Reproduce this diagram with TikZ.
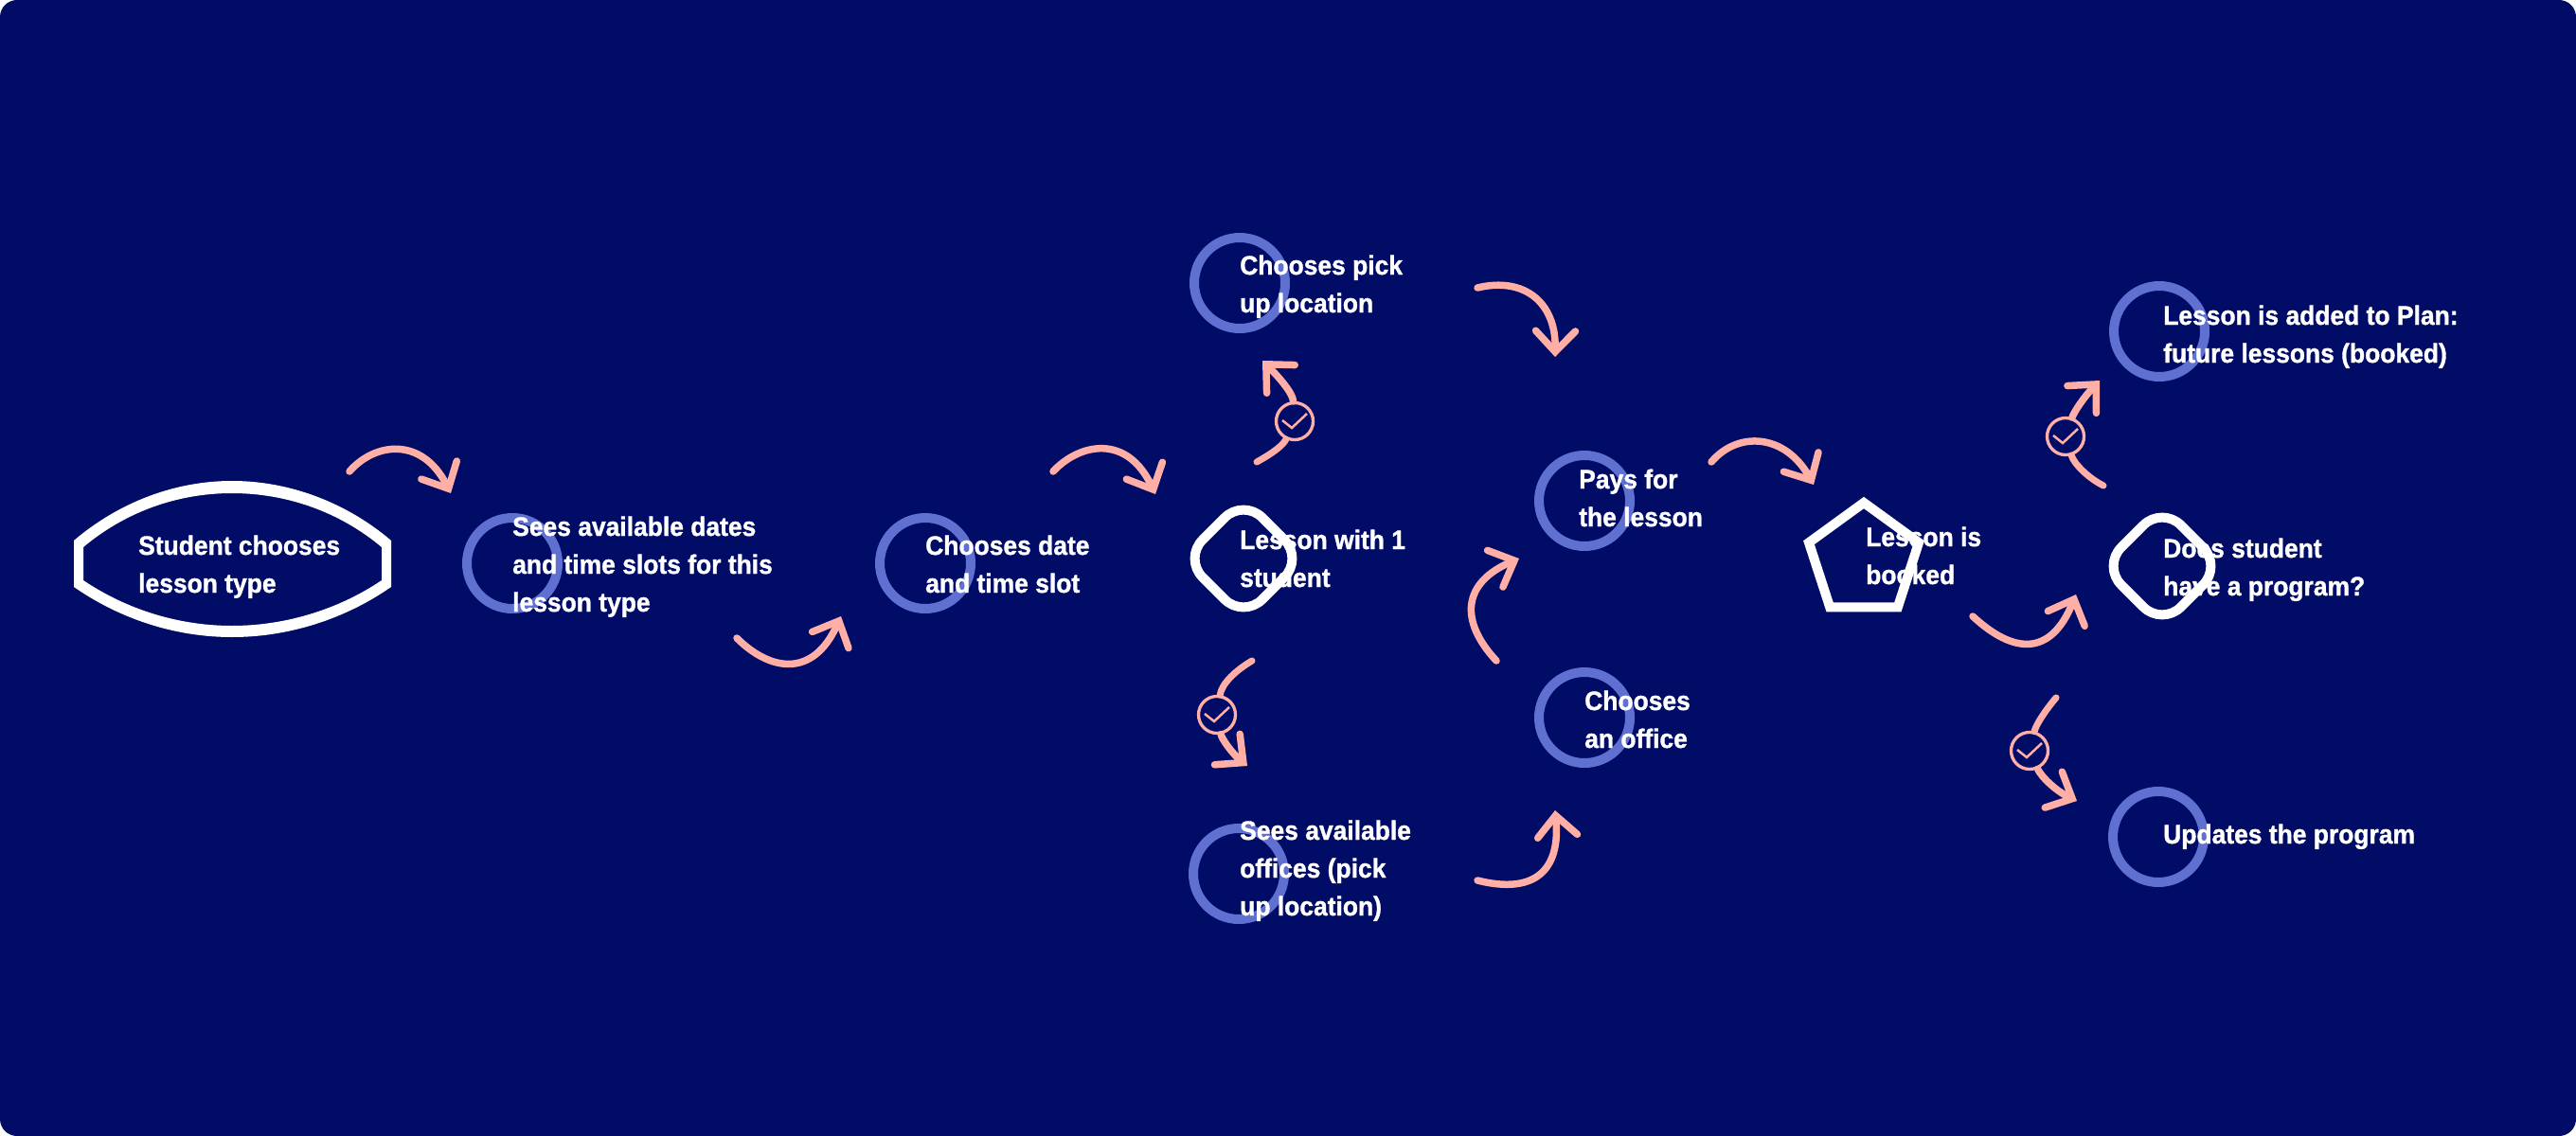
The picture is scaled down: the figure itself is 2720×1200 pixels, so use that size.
\documentclass[tikz,border=0pt]{standalone}
\usepackage{fontspec}
\setmainfont{Liberation Sans}[FakeStretch=0.94, BoldFeatures={FakeBold=1.2}]
\usetikzlibrary{arrows.meta, shapes.geometric}
\definecolor{navy}{HTML}{000C66}
\definecolor{salmon}{HTML}{FFAFA5}
\definecolor{ringblue}{HTML}{5F70D1}
\newcommand{\tick}[1]{\draw[tickline] ([shift={(-13,-1)}]#1.center) -- ([shift={(-3,7)}]#1.center) -- ([shift={(13,-8)}]#1.center);}
\tikzstyle{stepring}=[circle, draw=ringblue, line width=1mm, inner sep=0, outer sep=0, minimum size=9.6mm]
\tikzstyle{decision}=[diamond, aspect=1, draw=white, line width=1mm, rounded corners=2.8mm, inner sep=0, outer sep=0, minimum size=12.6mm]
\tikzstyle{finish}=[regular polygon, regular polygon sides=5, draw=white, line width=1mm, inner sep=0, outer sep=0, minimum size=12.2mm]
\tikzstyle{caption}=[anchor=base west, align=left, inner sep=0, xshift=-0.15mm, text=white, font=\bfseries\fontsize{8}{11.38}\selectfont]
\tikzstyle{flow}=[draw=salmon, line width=0.75mm, line cap=round, -{Straight Barb[length=2.2mm, width=4.2mm, line cap=round, line join=miter]}]
\tikzstyle{flowtail}=[draw=salmon, line width=0.7mm, line cap=round]
\tikzstyle{checkring}=[circle, draw=salmon, line width=0.33mm, inner sep=0, minimum size=3.9mm]
\tikzstyle{tickline}=[draw=salmon, line width=0.25mm]

\begin{document}
\begin{tikzpicture}[x=0.1mm, y=-0.1mm]
    \useasboundingbox (0, 0) rectangle (2720, 1200);
    \fill[navy, rounded corners=1.8mm] (0, 0) rectangle (2720, 1200);

    % shapes
    \fill[white, even odd rule]
        (78, 571) .. controls (125, 531) and (184, 508) .. (245, 508)
        .. controls (306, 508) and (366, 531) .. (413, 571) -- (413, 620)
        .. controls (364, 654) and (305, 673) .. (245, 673)
        .. controls (185, 673) and (127, 654) .. (78, 620) -- cycle
        (88, 578) .. controls (132, 541) and (187, 521) .. (245, 521)
        .. controls (303, 521) and (359, 541) .. (403, 578) -- (403, 613)
        .. controls (357, 644) and (301, 661) .. (245, 661)
        .. controls (189, 661) and (134, 644) .. (88, 613) -- cycle;
    \node[stepring] (r1) at (541, 595) {};
    \node[stepring] (r2) at (977, 595) {};
    \node[stepring] (r3) at (1309, 299) {};
    \node[stepring] (r4) at (1308, 923) {};
    \node[stepring] (r5) at (1673, 529) {};
    \node[stepring] (r6) at (1673, 758) {};
    \node[stepring] (r7) at (2280, 350) {};
    \node[stepring] (r8) at (2279, 884) {};
    \node[decision] (d1) at (1313, 590) {};
    \node[decision] (d2) at (2283, 598) {};
    \node[finish] (p1) at (1968, 592) {};

    % texts
    \node[caption] (t0) at (147, 626) {Student chooses\\lesson type};
    \node[caption] (t1) at (542, 646) {Sees available dates\\and time slots for this\\lesson type};
    \node[caption] (t2) at (978, 626) {Chooses date\\and time slot};
    \node[caption] (t3) at (1310, 330) {Chooses pick\\up location};
    \node[caption] (t4) at (1310, 620) {Lesson with 1\\student};
    \node[caption] (t5) at (1310, 967) {Sees available\\offices (pick\\up location)};
    \node[caption] (t6) at (1668, 556) {Pays for\\the lesson};
    \node[caption] (t7) at (1674, 790) {Chooses\\an office};
    \node[caption] (t8) at (1971, 617) {Lesson is\\booked};
    \node[caption] (t9) at (2285, 383) {Lesson is added to Plan:\\future lessons (booked)};
    \node[caption] (t10) at (2285, 629) {Does student\\have a program?};
    \node[caption] (t11) at (2285, 891) {Updates the program};

    % check marks
    \node[checkring] (c1) at (1367, 445) {};
    \node[checkring] (c2) at (1285, 755) {};
    \node[checkring] (c3) at (2181, 461) {};
    \node[checkring] (c4) at (2143, 793) {};
    \tick{c1} \tick{c2} \tick{c3} \tick{c4}

    % free ends of the arrows
    \coordinate (a1s) at (369, 498);  \coordinate (a1e) at (476, 521);
    \coordinate (a2s) at (778, 674);  \coordinate (a2e) at (888, 651);
    \coordinate (a3s) at (1112, 498); \coordinate (a3e) at (1220, 522);
    \coordinate (a4s) at (1327, 488); \coordinate (a4e) at (1333, 381);
    \coordinate (a5s) at (1560, 304); \coordinate (a5e) at (1642, 377);
    \coordinate (a6s) at (1322, 698); \coordinate (a6e) at (1317, 809);
    \coordinate (a7s) at (1560, 930); \coordinate (a7e) at (1642, 856);
    \coordinate (a8s) at (1580, 698); \coordinate (a8e) at (1604, 590);
    \coordinate (a9s) at (1807, 488); \coordinate (a9e) at (1915, 512);
    \coordinate (a10s) at (2083, 651); \coordinate (a10e) at (2192, 628);
    \coordinate (a11s) at (2221, 513); \coordinate (a11e) at (2217, 402);
    \coordinate (a12s) at (2171, 737); \coordinate (a12e) at (2193, 846);

    % arrows
    \draw[flow] (a1s) .. controls (395, 468) and (445, 460) .. (a1e);
    \draw[flow] (a2s) .. controls (812, 708) and (858, 718) .. (a2e);
    \draw[flow] (a3s) .. controls (1140, 468) and (1190, 458) .. (a3e);
    \draw[flowtail] (a4s) .. controls (1345, 478) and (1355, 470) .. (c1);
    \draw[flow] (c1) .. controls (1365, 415) and (1350, 398) .. (a4e);
    \draw[flow] (a5s) .. controls (1610, 292) and (1643, 320) .. (a5e);
    \draw[flowtail] (a6s) .. controls (1305, 708) and (1290, 722) .. (c2);
    \draw[flow] (c2) .. controls (1290, 780) and (1300, 795) .. (a6e);
    \draw[flow] (a7s) .. controls (1620, 945) and (1648, 920) .. (a7e);
    \draw[flow] (a8s) .. controls (1540, 655) and (1545, 615) .. (a8e);
    \draw[flow] (a9s) .. controls (1835, 455) and (1885, 458) .. (a9e);
    \draw[flow] (a10s) .. controls (2125, 690) and (2165, 695) .. (a10e);
    \draw[flow] (c3) .. controls (2190, 435) and (2200, 420) .. (a11e);
    \draw[flowtail] (a11s) .. controls (2205, 505) and (2190, 490) .. (c3);
    \draw[flowtail] (a12s) .. controls (2160, 750) and (2150, 765) .. (c4);
    \draw[flow] (c4) .. controls (2155, 820) and (2170, 835) .. (a12e);
\end{tikzpicture}
\end{document}
